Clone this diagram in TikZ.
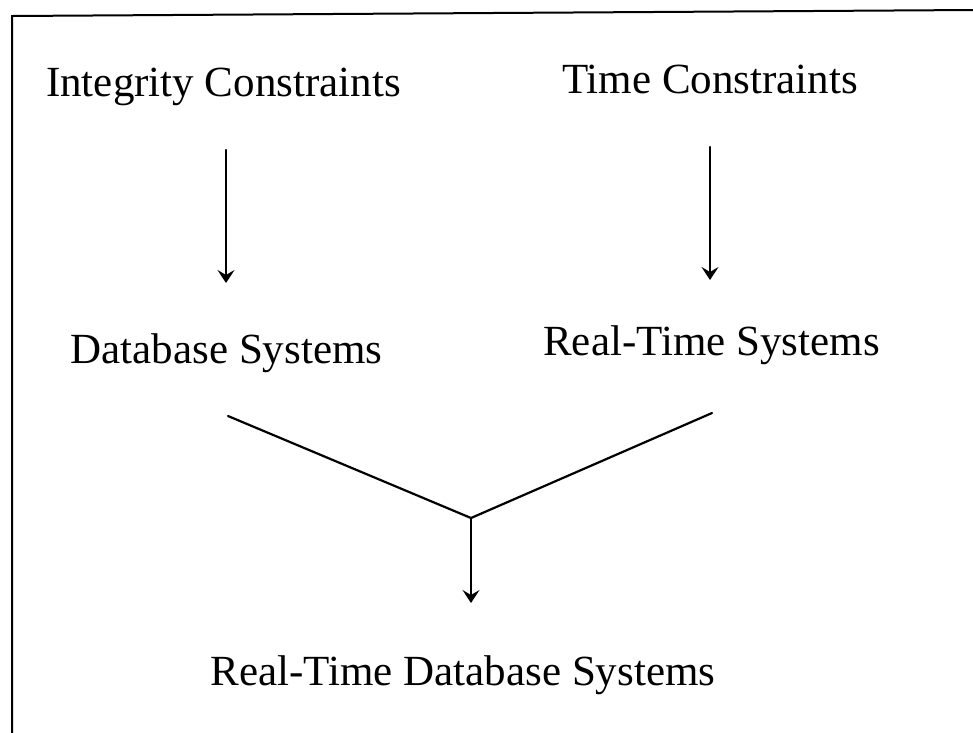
\documentclass[tikz,border=0pt]{standalone}
\usepackage{fontspec}
\setmainfont{Liberation Serif}
\usetikzlibrary{arrows.meta}
\begin{document}
\begin{tikzpicture}[x=1pt,y=-1pt,
  lbl/.style={anchor=base,inner sep=0pt,font=\fontsize{43}{50}\selectfont},
  ln/.style={line width=2.2pt,line cap=round},
  arr/.style={ln,-{Stealth[length=13pt,width=17pt,inset=5pt]}}]
\useasboundingbox (0,0) rectangle (973,732);
\draw[line width=2pt] (973,10) -- (12,16) -- (12,733);
\node[lbl] (ic) at (223.5,96) {Integrity Constraints};
\node[lbl] (tc) at (710,93) {Time Constraints};
\node[lbl] (ds) at (226.5,363) {Database Systems};
\node[lbl] (rts) at (711.5,355) {Real-Time Systems};
\node[lbl] (rtds) at (463,685) {Real-Time Database Systems};
\coordinate (a1s) at (226,150);
\coordinate (a1e) at (226,283);
\coordinate (a2s) at (710,147);
\coordinate (a2e) at (710,280);
\coordinate (l1) at (228,416);
\coordinate (l2) at (712,413);
\coordinate (j) at (471,518);
\coordinate (a3e) at (471,603);
\draw[arr] (a1s) -- (a1e);
\draw[arr] (a2s) -- (a2e);
\draw[ln] (l1) -- (j) -- (l2);
\draw[arr] (j) -- (a3e);
\end{tikzpicture}
\end{document}
